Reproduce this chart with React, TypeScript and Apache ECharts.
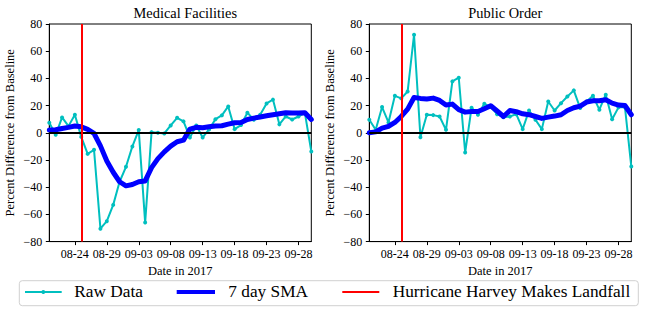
import React, { useEffect, useRef } from "react";
import * as echarts from "echarts";

const dates = [
  "08-20", "08-21", "08-22", "08-23", "08-24", "08-25", "08-26", "08-27", "08-28", "08-29", "08-30", "08-31",
  "09-01", "09-02", "09-03", "09-04", "09-05", "09-06", "09-07", "09-08", "09-09", "09-10",
  "09-11", "09-12", "09-13", "09-14", "09-15", "09-16", "09-17", "09-18", "09-19", "09-20",
  "09-21", "09-22", "09-23", "09-24", "09-25", "09-26", "09-27", "09-28", "09-29", "09-30",
];

const medicalRaw = [
  7.4, -1.5, 11.3, 4.9, 13.3, -3, -15.5, -12.5, -70.5, -65, -53, -36,
  -25, -10, 2, -66, 0.5, 0, -0.5, 5.4, 11, 8.4,
  -3.4, 5.4, -3.4, 2.5, 10, 12.8, 19.4, 2.7, 5.7, 14.8,
  9.6, 13.3, 21.6, 24.4, 6.2, 12, 9.8, 12, 14.5, -13.8,
];
const medicalSma = [
  2, 2.2, 3.2, 4, 5, 4.4, 2.5, -0.5, -9.6, -20.7, -29, -36,
  -39, -38, -36, -35.4, -25.6, -19, -14, -9.8, -6.6, -5.4,
  2.7, 4, 3.7, 4.4, 5, 5.2, 6.4, 7.4, 7.6, 9.8,
  10.8, 11.6, 12.5, 13.3, 14, 14.8, 14.5, 14.5, 14.8, 9.8,
];
const publicRaw = [
  9.6, 2.2, 18.9, 7.6, 27.2, 25.3, 30.4, 72.1, -3.2, 13.3, 13, 12,
  2.2, 37.8, 40.5, -14.5, 18.4, 13.3, 21.3, 19, 13.7, 11.5,
  12, 13.7, 2.7, 16.4, 9.6, 2.7, 23, 16.4, 21.8, 26.7,
  31.2, 18.2, 23, 27.2, 17, 28, 10, 18.7, 19, -24.8,
];
const publicSma = [
  0, 0.7, 3.4, 4.7, 7.6, 12, 17.4, 26, 25.3, 24.8, 25.5, 23.8,
  20.4, 21.1, 17, 15.2, 15.7, 15.7, 17.7, 19.9, 16, 12,
  16.4, 15.5, 14, 13.3, 12, 10.6, 11.5, 12.3, 13.3, 16.4,
  18.4, 19.6, 22.6, 23.6, 23.6, 24.3, 21.8, 20.4, 20.1, 13.3,
];
const landfallDate = "08-25";
const panelTitles = ["Medical Facilities", "Public Order"];
const legendNames = ["Raw Data", "7 day SMA", "Hurricane Harvey Makes Landfall"];
const yTicks = { min: -80, max: 80, step: 20 };

const SERIF = "Liberation Serif";
const CYAN = "#00BFBF";
const BLUE = "#0000FF";
const RED = "#FF0000";

export default function App() {
  const ref = useRef<HTMLDivElement>(null);
  useEffect(() => {
    document.body.style.margin = "0";
    const chart = echarts.init(ref.current!, null, { renderer: "svg" });
    const lefts = [49.3, 369.3];
    const tickShow = (i: number) => (i - 4) % 5 === 0;
    const grids = lefts.map((l) => ({
      left: l, top: 24, width: 262, height: 217.6,
      show: true, borderColor: "#000", borderWidth: 1, backgroundColor: "transparent",
    }));
    const xAxes = lefts.map((_, k) => ({
      type: "category", gridIndex: k, data: dates, boundaryGap: false,
      name: "Date in 2017", nameLocation: "middle", nameGap: 23,
      nameTextStyle: { fontFamily: SERIF, fontSize: 12.5, color: "#000" },
      axisLine: { show: true, onZero: false, lineStyle: { color: "#000", width: 1 } },
      axisTick: { show: true, interval: (i: number) => tickShow(i), length: 3.5, lineStyle: { color: "#000" } },
      axisLabel: { interval: (i: number) => tickShow(i), fontFamily: SERIF, fontSize: 12, color: "#000", margin: 6 },
      splitLine: { show: false },
    }));
    const yAxes = lefts.map((_, k) => ({
      type: "value", gridIndex: k, min: yTicks.min, max: yTicks.max, interval: yTicks.step,
      name: "Percent Difference from Baseline", nameLocation: "middle", nameGap: 33,
      nameTextStyle: { fontFamily: SERIF, fontSize: 12.5, color: "#000" },
      axisLine: { show: true, lineStyle: { color: "#000", width: 1 } },
      axisTick: { show: true, length: 3.5, lineStyle: { color: "#000" } },
      axisLabel: {
        fontFamily: SERIF, fontSize: 12, color: "#000", margin: 7,
        formatter: (v: number) => String(v).replace("-", "\u2212"),
      },
      splitLine: { show: false },
    }));
    const raws = [medicalRaw, publicRaw];
    const smas = [medicalSma, publicSma];
    const series: any[] = [];
    [0, 1].forEach((k) => {
      series.push({
        name: legendNames[0], type: "line", xAxisIndex: k, yAxisIndex: k, data: raws[k],
        symbol: "circle", symbolSize: 4, showSymbol: true,
        lineStyle: { color: CYAN, width: 2 }, itemStyle: { color: CYAN },
        z: 3,
        markLine: {
          silent: true, symbol: "none", label: { show: false },
          lineStyle: { color: "#000", width: 2.2, type: "solid" },
          data: [{ yAxis: 0 }],
        },
      });
      series.push({
        name: legendNames[1], type: "line", xAxisIndex: k, yAxisIndex: k, data: smas[k],
        symbol: "none", lineStyle: { color: BLUE, width: 5, cap: "round", join: "round" },
        itemStyle: { color: BLUE }, z: 4,
      });
      series.push({
        name: legendNames[2], type: "line", xAxisIndex: k, yAxisIndex: k, data: [],
        symbol: "none", lineStyle: { color: RED, width: 2 }, itemStyle: { color: RED }, z: 5,
        markLine: {
          silent: true, symbol: "none", label: { show: false },
          lineStyle: { color: RED, width: 2, type: "solid" },
          data: [{ xAxis: landfallDate }],
        },
      });
    });
    const ly = 292;
    const legendText = (text: string, x: number) => ({
      type: "text", x, y: ly - 0.5,
      style: { text, fontFamily: SERIF, fontSize: 17.3, fill: "#000", verticalAlign: "middle", align: "left" },
    });
    chart.setOption({
      animation: false,
      title: panelTitles.map((t, k) => ({
        text: t, left: lefts[k] + 131, top: 1, textAlign: "center",
        textStyle: { fontFamily: SERIF, fontSize: 14.4, fontWeight: "normal", color: "#000" },
      })),
      grid: grids,
      xAxis: xAxes,
      yAxis: yAxes,
      graphic: [
        {
          type: "rect", shape: { x: 19.3, y: 280.7, width: 619, height: 25, r: 3 },
          style: { fill: "#fff", stroke: "#d0d0d0", lineWidth: 1 },
        },
        { type: "line", shape: { x1: 25, y1: ly, x2: 61.7, y2: ly }, style: { stroke: CYAN, lineWidth: 2 } },
        { type: "circle", shape: { cx: 43.3, cy: ly, r: 2 }, style: { fill: CYAN } },
        legendText(legendNames[0], 74.3),
        { type: "line", shape: { x1: 176.7, y1: ly, x2: 215, y2: ly }, style: { stroke: BLUE, lineWidth: 4 } },
        legendText(legendNames[1], 228.3),
        { type: "line", shape: { x1: 342.3, y1: ly, x2: 379.3, y2: ly }, style: { stroke: RED, lineWidth: 2 } },
        legendText(legendNames[2], 392.7),
      ],
      series,
    });
    return () => chart.dispose();
  }, []);
  return <div ref={ref} style={{ width: 645, height: 312 }} />;
}
